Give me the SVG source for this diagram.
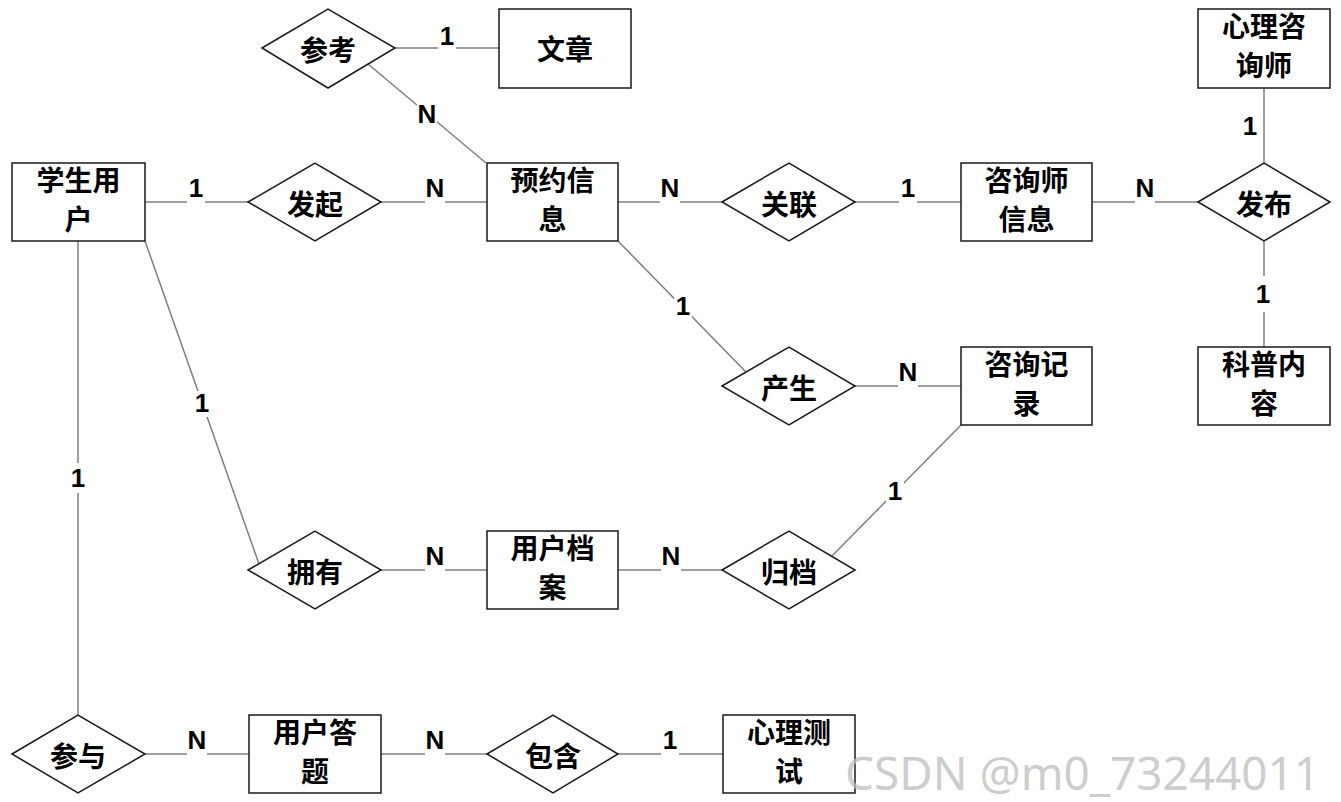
<svg xmlns="http://www.w3.org/2000/svg" width="1341" height="802" viewBox="0 0 1341 802">
<style>
.ent{fill:#fff;stroke:#1a1a1a;stroke-width:1.5}
.rel{fill:#fff;stroke:#1a1a1a;stroke-width:1.5}
.t{font-family:"Noto Sans CJK SC","Noto Sans",sans-serif;font-weight:bold;font-size:28px;fill:#000;text-anchor:middle}
.ln{stroke:#808080;stroke-width:1.5;fill:none}
.lb{font-family:"Liberation Sans",Arial,sans-serif;font-weight:bold;font-size:26px;fill:#000;text-anchor:middle}
.bg{fill:#fff}
.wm{font-family:"Noto Sans","Open Sans",sans-serif;font-size:46px;fill:#bdbdbd;fill-opacity:0.75}
</style>
<rect width="1341" height="802" fill="#fff"/>
<g id="connectors">
<line class="ln" x1="145" y1="202" x2="248" y2="202"/>
<line class="ln" x1="381" y1="202" x2="487" y2="202"/>
<line class="ln" x1="618" y1="202" x2="722" y2="202"/>
<line class="ln" x1="855" y1="202" x2="961" y2="202"/>
<line class="ln" x1="1092" y1="202" x2="1198" y2="202"/>
<line class="ln" x1="1264" y1="88" x2="1264" y2="163"/>
<line class="ln" x1="1264" y1="241" x2="1264" y2="347"/>
<line class="ln" x1="395" y1="48" x2="499" y2="48"/>
<line class="ln" x1="368" y1="64" x2="486" y2="163"/>
<line class="ln" x1="618" y1="241" x2="746" y2="372"/>
<line class="ln" x1="855" y1="386" x2="961" y2="386"/>
<line class="ln" x1="961" y1="425" x2="832" y2="556"/>
<line class="ln" x1="145" y1="241" x2="259" y2="564"/>
<line class="ln" x1="78" y1="241" x2="78" y2="715"/>
<line class="ln" x1="381" y1="570" x2="487" y2="570"/>
<line class="ln" x1="618" y1="570" x2="722" y2="570"/>
<line class="ln" x1="145" y1="754" x2="249" y2="754"/>
<line class="ln" x1="381" y1="754" x2="487" y2="754"/>
<line class="ln" x1="618" y1="754" x2="723" y2="754"/>
<g id="labels">
<rect class="bg" x="187" y="178" width="18" height="26"/><text class="lb" x="196" y="197">1</text>
<rect class="bg" x="425" y="178" width="20" height="26"/><text class="lb" x="435" y="197">N</text>
<rect class="bg" x="660" y="178" width="20" height="26"/><text class="lb" x="670" y="197">N</text>
<rect class="bg" x="899" y="178" width="18" height="26"/><text class="lb" x="908" y="197">1</text>
<rect class="bg" x="1135" y="178" width="20" height="26"/><text class="lb" x="1145" y="197">N</text>
<text class="lb" x="1250" y="135">1</text>
<rect class="bg" x="1254" y="276" width="18" height="36"/><text class="lb" x="1263" y="303">1</text>
<rect class="bg" x="438" y="26" width="18" height="24"/><text class="lb" x="447" y="45">1</text>
<rect class="bg" x="417" y="101" width="20" height="26"/><text class="lb" x="427" y="123">N</text>
<rect class="bg" x="674" y="294" width="18" height="26"/><text class="lb" x="683" y="315">1</text>
<rect class="bg" x="898" y="362" width="20" height="26"/><text class="lb" x="908" y="381">N</text>
<rect class="bg" x="886" y="479" width="18" height="26"/><text class="lb" x="895" y="500">1</text>
<rect class="bg" x="193" y="391" width="18" height="26"/><text class="lb" x="202" y="412">1</text>
<rect class="bg" x="69" y="463" width="18" height="30"/><text class="lb" x="78" y="487">1</text>
<rect class="bg" x="425" y="546" width="20" height="26"/><text class="lb" x="435" y="565">N</text>
<rect class="bg" x="661" y="546" width="20" height="26"/><text class="lb" x="671" y="565">N</text>
<rect class="bg" x="187" y="730" width="20" height="26"/><text class="lb" x="197" y="749">N</text>
<rect class="bg" x="425" y="730" width="20" height="26"/><text class="lb" x="435" y="749">N</text>
<rect class="bg" x="661" y="730" width="18" height="26"/><text class="lb" x="670" y="749">1</text>
</g>
</g>
<g id="student"><rect class="ent" x="12" y="163" width="133" height="78"/><text class="t" x="78.5" y="191">学生用</text><text class="t" x="78.5" y="230">户</text></g>
<g id="faqi"><polygon class="rel" points="248,202 315,163 381,202 315,241"/><text class="t" x="315" y="215">发起</text></g>
<g id="yuyue"><rect class="ent" x="487" y="163" width="131" height="78"/><text class="t" x="552.5" y="191">预约信</text><text class="t" x="552.5" y="230">息</text></g>
<g id="guanlian"><polygon class="rel" points="722,202 789,163 855,202 789,241"/><text class="t" x="789" y="215">关联</text></g>
<g id="zixunshi"><rect class="ent" x="961" y="163" width="131" height="78"/><text class="t" x="1026.5" y="191">咨询师</text><text class="t" x="1026.5" y="230">信息</text></g>
<g id="fabu"><polygon class="rel" points="1198,202 1264,163 1330,202 1264,241"/><text class="t" x="1264" y="215">发布</text></g>
<g id="xinli"><rect class="ent" x="1198" y="9" width="132" height="79"/><text class="t" x="1264" y="37">心理咨</text><text class="t" x="1264" y="76">询师</text></g>
<g id="kepu"><rect class="ent" x="1198" y="347" width="132" height="78"/><text class="t" x="1264" y="375">科普内</text><text class="t" x="1264" y="414">容</text></g>
<g id="cankao"><polygon class="rel" points="262,48 328,9 395,48 328,88"/><text class="t" x="328" y="61">参考</text></g>
<g id="wenzhang"><rect class="ent" x="499" y="9" width="132" height="79"/><text class="t" x="565" y="60">文章</text></g>
<g id="chansheng"><polygon class="rel" points="722,386 789,347 855,386 789,425"/><text class="t" x="789" y="399">产生</text></g>
<g id="jilu"><rect class="ent" x="961" y="347" width="131" height="78"/><text class="t" x="1026.5" y="375">咨询记</text><text class="t" x="1026.5" y="414">录</text></g>
<g id="yongyou"><polygon class="rel" points="248,570 315,531 381,570 315,609"/><text class="t" x="315" y="583">拥有</text></g>
<g id="dangan"><rect class="ent" x="487" y="531" width="131" height="78"/><text class="t" x="552.5" y="559">用户档</text><text class="t" x="552.5" y="598">案</text></g>
<g id="guidang"><polygon class="rel" points="722,570 789,531 855,570 789,609"/><text class="t" x="789" y="583">归档</text></g>
<g id="canyu"><polygon class="rel" points="12,754 78,715 145,754 78,793"/><text class="t" x="78" y="767">参与</text></g>
<g id="dati"><rect class="ent" x="249" y="715" width="132" height="78"/><text class="t" x="315" y="743">用户答</text><text class="t" x="315" y="782">题</text></g>
<g id="baohan"><polygon class="rel" points="487,754 553,715 618,754 553,793"/><text class="t" x="553" y="767">包含</text></g>
<g id="ceshi"><rect class="ent" x="723" y="715" width="132" height="78"/><text class="t" x="789" y="743">心理测</text><text class="t" x="789" y="782">试</text></g>
<text class="wm" x="845" y="790" textLength="475" lengthAdjust="spacingAndGlyphs">CSDN @m0_73244011</text>
</svg>
